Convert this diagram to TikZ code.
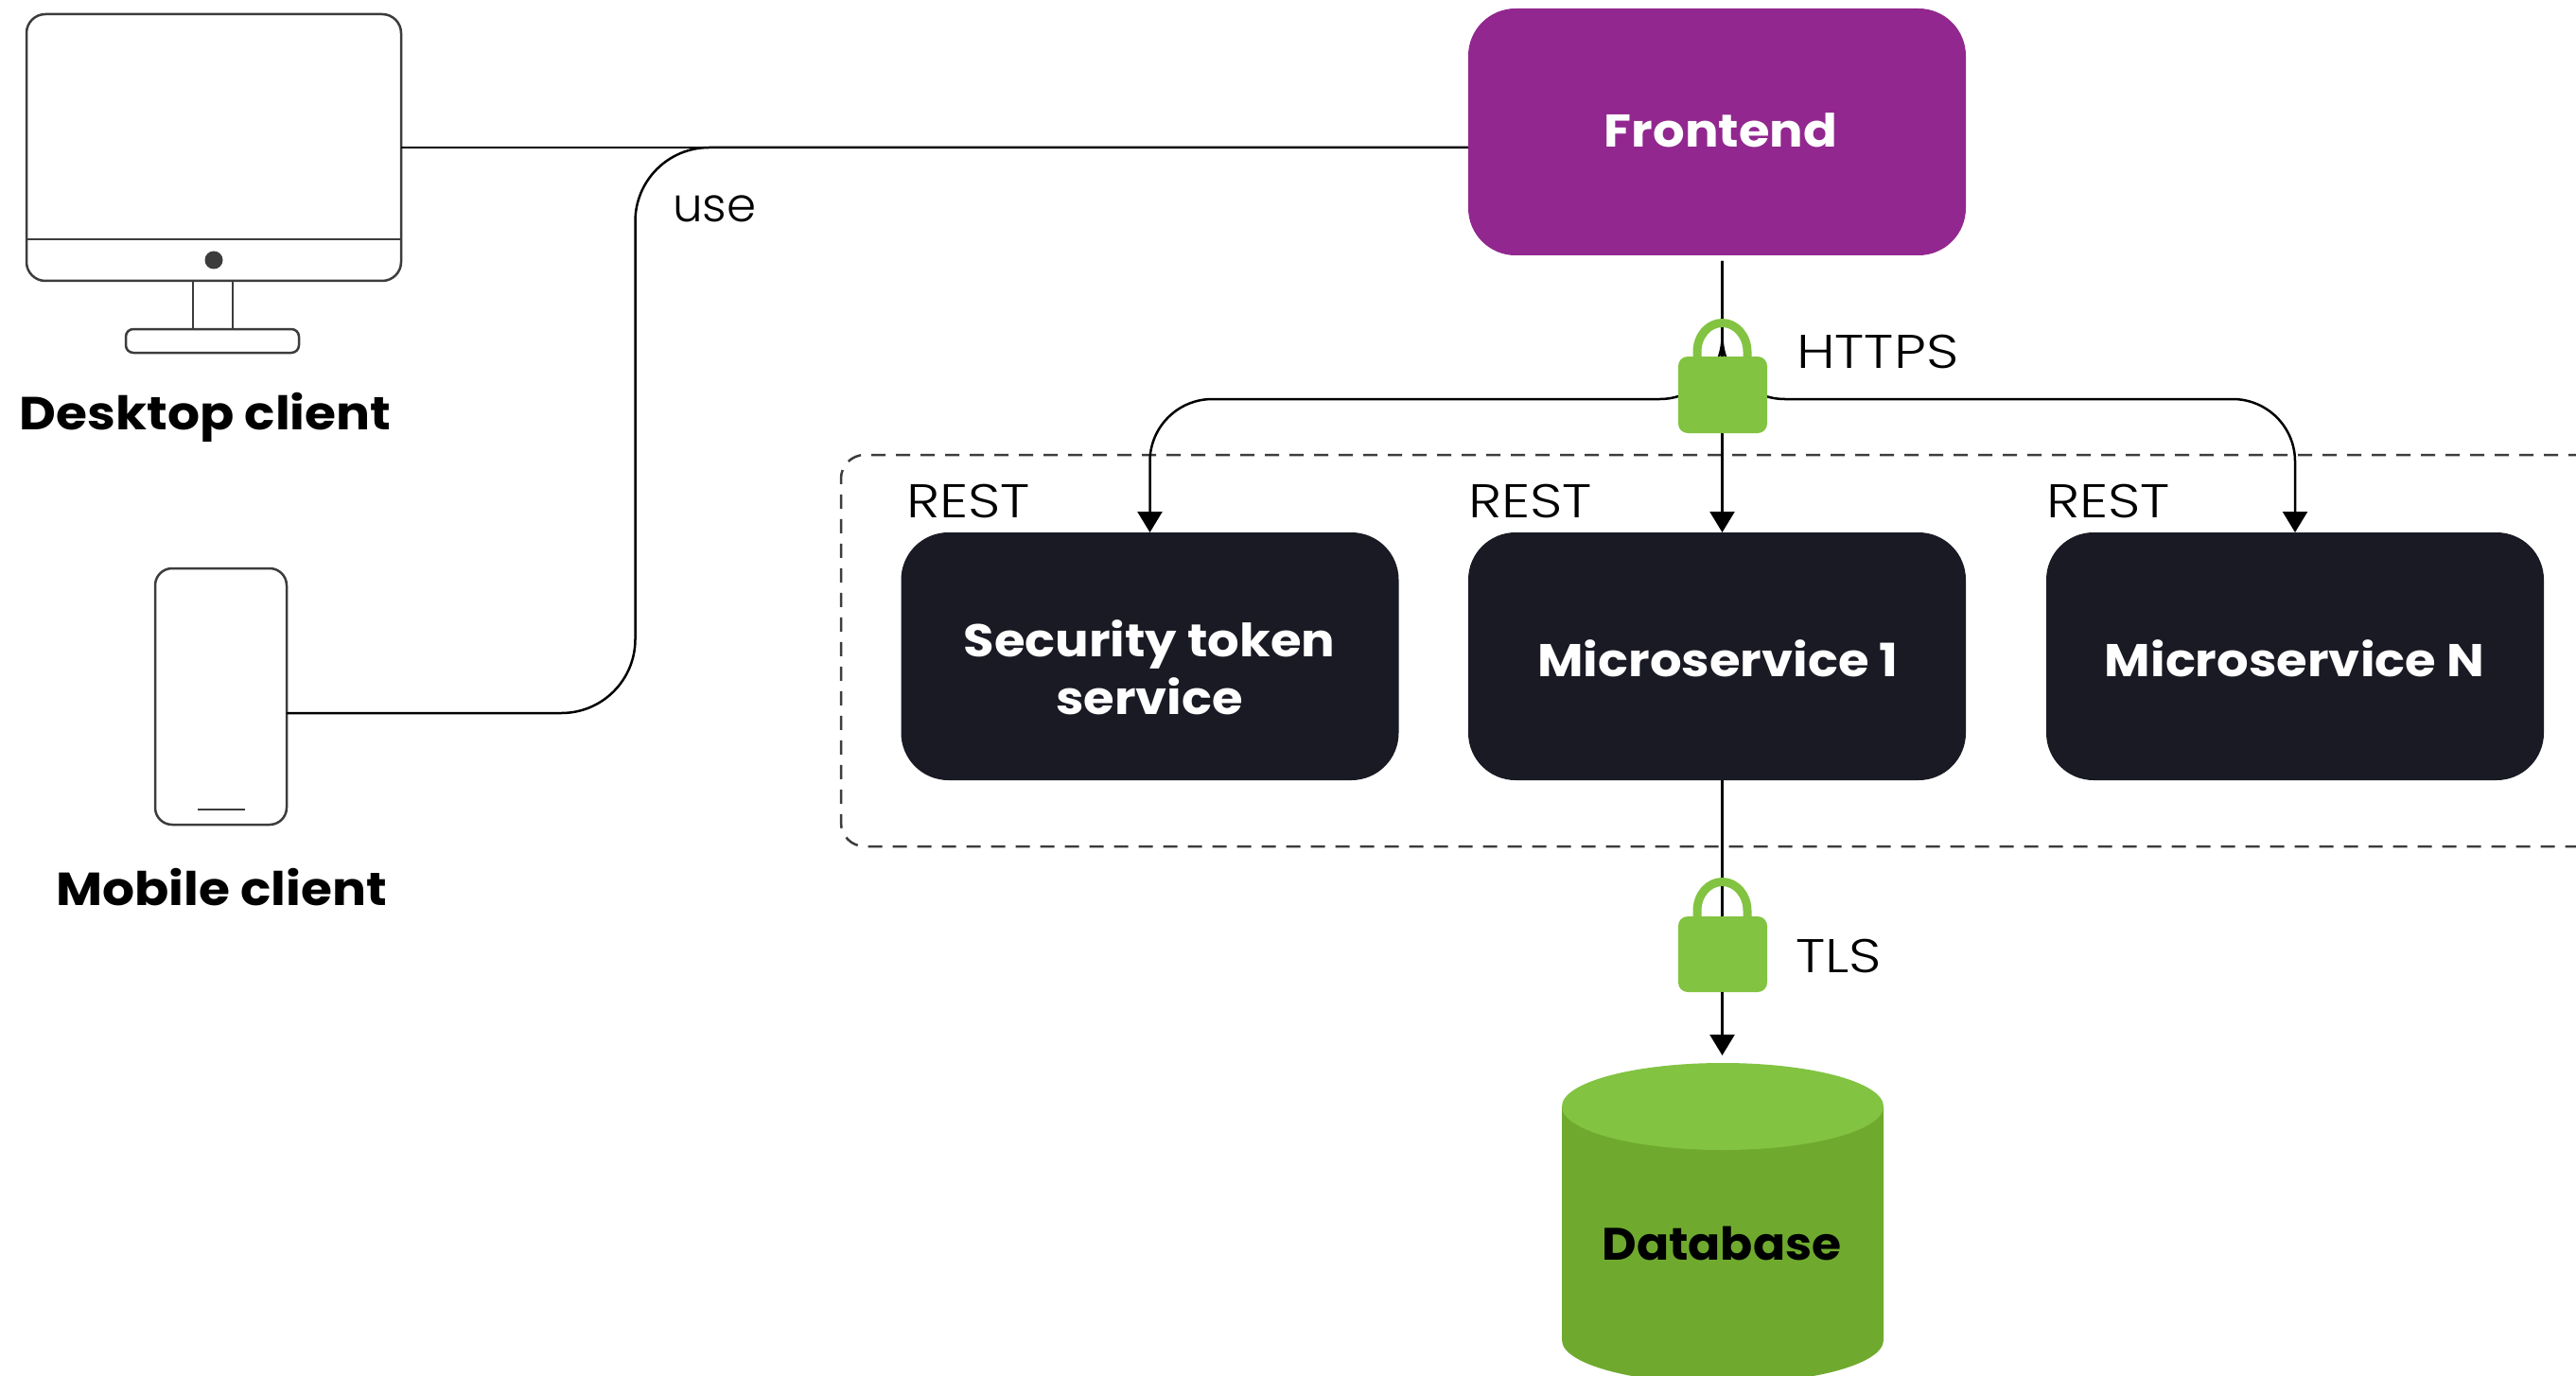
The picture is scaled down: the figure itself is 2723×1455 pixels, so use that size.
\documentclass[tikz,border=0pt]{standalone}
\usepackage{fontspec}
\setmainfont{Poppins}[UprightFont=* Light,BoldFont=* Bold]
\newfontfamily\wideBold{Poppins}[UprightFont=* Bold,FakeStretch=1.09]
\newfontfamily\dbBold{Poppins}[UprightFont=* Bold,FakeStretch=1.05]
\newfontfamily\wideLight{Poppins}[UprightFont=* Light,FakeStretch=1.2]
\usetikzlibrary{arrows.meta,calc}
\definecolor{frontc}{HTML}{92278F}
\definecolor{darkc}{HTML}{191A23}
\definecolor{lightg}{HTML}{82C341}
\definecolor{darkg}{HTML}{6FAA2E}
\definecolor{devc}{HTML}{3C3C3C}
\tikzset{
  px/.style={x=1pt,y=-1pt},
  svcbox/.style={rectangle,rounded corners=50pt,minimum width=526pt,minimum height=261pt,inner sep=0pt,outer sep=0pt},
  svclabel/.style={inner sep=0pt,outer sep=0pt,text=white,align=center,font=\fontsize{48.5}{61}\selectfont\wideBold},
  device/.style={rectangle,draw=devc,line width=2.5pt,inner sep=0pt,outer sep=0pt,fill=white},
  devline/.style={draw=devc,line width=2.5pt},
  conn/.style={draw=black,line width=2.5pt},
  arrowed/.style={conn,-{Triangle[length=22pt,width=26pt]}},
  curved/.style={arrowed,rounded corners=66pt},
  lockbody/.style={rectangle,fill=lightg,rounded corners=10pt,minimum width=94pt,inner sep=0pt,outer sep=0pt},
  shackle/.style={draw=lightg,line width=9pt},
  tag/.style={anchor=base west,inner sep=0pt,outer sep=0pt,font=\fontsize{50}{59}\selectfont\wideLight},
  title/.style={inner sep=0pt,outer sep=0pt,font=\fontsize{49}{58}\selectfont\wideBold,text=black},
  groupbox/.style={draw=devc,line width=2.5pt,dash pattern=on 15pt off 11pt,rounded corners=25pt},
}
\begin{document}
\begin{tikzpicture}[px]
\useasboundingbox (0,0) rectangle (2723,1455);
\clip (0,0) rectangle (2723,1455);
\fill[white] (0,0) rectangle (2723,1455);
% group
\draw[groupbox] (2730,481) -- (889,481) -- (889,895) -- (2730,895);
% frontend and services
\node[svcbox,fill=frontc] (front) at (1815,139.5) {};
\node[svcbox,fill=darkc,minimum height=262pt] (sts) at (1215.5,694) {};
\node[svcbox,fill=darkc,minimum height=262pt] (ms1) at (1815,694) {};
\node[svcbox,fill=darkc,minimum height=262pt] (msn) at (2426,694) {};
\node[svclabel] (frontlabel) at (1819,138) {Frontend};
\node[svclabel] (stslabel) at (1215,706) {Security token\\service};
\node[svclabel] (ms1label) at (1816,696) {Microservice 1};
\node[svclabel] (msnlabel) at (2425.5,696) {Microservice N};
% database
\fill[darkg] (1651,1170) -- (1651,1417) arc[start angle=180,end angle=360,x radius=170pt,y radius=46pt] -- (1991,1170) -- cycle;
\fill[lightg] (1821,1170) ellipse[x radius=170pt,y radius=46pt];
\node[inner sep=0pt,outer sep=0pt,minimum width=340pt,minimum height=339pt] (db) at (1821,1293.5) {};
\node[title,font=\fontsize{48}{58}\selectfont\dbBold] (dblabel) at (1820,1315) {Database};
% devices
\node[device,rounded corners=20pt,minimum width=396pt,minimum height=282pt,anchor=north west] (desk) at (28,15) {};
\coordinate (deskL) at (desk.west |- 0,253);
\coordinate (deskR) at (desk.east |- 0,253);
\draw[devline] (deskL) -- (deskR);
\fill[devc] (226,275) circle (9.5pt);
\draw[devline] (204,297) -- (204,348) (246,297) -- (246,348);
\node[device,rounded corners=8pt,minimum width=183pt,minimum height=25pt,anchor=north west] (stand) at (133,348) {};
\node[device,rounded corners=18pt,minimum width=139pt,minimum height=271pt,anchor=north west] (phone) at (164,601) {};
\draw[devline] (209,856) -- (259,856);
\node[title] (desklabel) at (217,441) {Desktop client};
\node[title] (phonelabel) at (234,938) {Mobile client};
% connectors
\coordinate (hub) at (1820.5,422);
\coordinate (deskout) at (424,156);
\coordinate (phoneout) at (303,754);
\coordinate (frontin) at (1552,156);
\draw[conn] (deskout) -- (frontin);
\draw[conn,rounded corners=78pt] (phoneout) -- (671.5,754) -- (671.5,156) -- (frontin);
\draw[arrowed,shorten <=6pt] (hub |- front.south) -- (hub |- ms1.north);
\draw[curved] (hub |- front.south) ++(0,6) -- (hub) -- (sts.north |- hub) -- (sts.north);
\draw[curved] (hub |- front.south) ++(0,6) -- (hub) -- (msn.north |- hub) -- (msn.north);
\draw[conn] (hub |- ms1.south) -- (hub |- 0,969);
% locks
\node[lockbody,minimum height=81pt,anchor=north] (lock1) at (1821,377) {};
\draw[shackle] (1794,377) -- (1794,372) arc[start angle=180,end angle=0,x radius=26.5pt,y radius=30.5pt] -- (1847,377);
\node[lockbody,minimum height=80pt,anchor=north] (lock2) at (1821,969) {};
\draw[shackle] (1794,969) -- (1794,963) arc[start angle=180,end angle=0,x radius=26.5pt,y radius=30.5pt] -- (1847,969);
\draw[arrowed,shorten >=8pt] (hub |- lock2.south) -- (hub |- db.north);
% labels
\node[tag,font=\fontsize{50}{59}\selectfont] (use) at (711,235) {use};
\node[tag] (https) at (1899,389) {HTTPS};
\node[tag] (tls) at (1898,1028) {TLS};
\node[tag] (rest1) at (958,547) {REST};
\node[tag] (rest2) at (1552,547) {REST};
\node[tag] (rest3) at (2163,547) {REST};
\end{tikzpicture}
\end{document}
